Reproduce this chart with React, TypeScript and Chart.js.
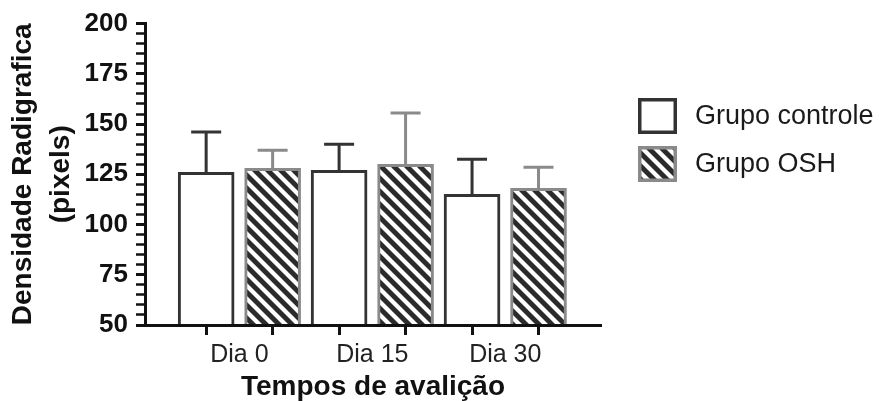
import React, { useEffect, useRef } from 'react';
import { Chart, registerables } from 'chart.js';

Chart.register(...registerables);

// ---- data ----
const categories = ['Dia 0', 'Dia 15', 'Dia 30'];
const seriesLabels = ['Grupo controle', 'Grupo OSH'];
const controlMeans = [126, 127, 115];
const controlSD = [20, 13, 17.5];
const oshMeans = [128, 130, 118];
const oshSD = [9, 25.5, 10.5];
const yMin = 50;
const yMax = 200;
const yMajorStep = 25;
const yMinorStep = 5;
const xTitle = 'Tempos de avalição';
const yTitle = ['Densidade Radigrafica', '(pixels)'];

const FONT = "'Liberation Sans', Arial, Helvetica, sans-serif";

function makeHatch(): CanvasPattern | string {
  const s = 13;
  const c = document.createElement('canvas');
  c.width = s;
  c.height = s;
  const g = c.getContext('2d');
  if (!g) return '#2b2b2b';
  g.fillStyle = '#2b2b2b';
  g.fillRect(0, 0, s, s);
  g.strokeStyle = '#ffffff';
  g.lineWidth = 4.2;
  for (let k = -1; k <= 1; k++) {
    g.beginPath();
    g.moveTo(k * s - 3, -3);
    g.lineTo(k * s + s + 3, s + 3);
    g.stroke();
  }
  const p = g.createPattern(c, 'repeat');
  return p || '#2b2b2b';
}

const errorBarsPlugin = {
  id: 'errorBars',
  afterDatasetsDraw(chart: any) {
    const ctx = chart.ctx;
    const yScale = chart.scales.y;
    chart.data.datasets.forEach((ds: any, di: number) => {
      const meta = chart.getDatasetMeta(di);
      const errs: number[] = ds.errors || [];
      meta.data.forEach((el: any, i: number) => {
        const mean = ds.data[i].y;
        const top = yScale.getPixelForValue(mean + errs[i]);
        const base = el.y;
        ctx.save();
        ctx.strokeStyle = ds.borderColor;
        ctx.lineWidth = 3;
        ctx.beginPath();
        ctx.moveTo(el.x, base);
        ctx.lineTo(el.x, top);
        ctx.moveTo(el.x - 15, top);
        ctx.lineTo(el.x + 15, top);
        ctx.stroke();
        ctx.restore();
      });
    });
  },
};

const boxLegendPlugin = {
  id: 'boxLegend',
  afterDraw(chart: any, _args: any, opts: any) {
    const ctx = chart.ctx;
    chart.data.datasets.forEach((ds: any, i: number) => {
      const bx = opts.x;
      const by = opts.ys[i];
      const bw = opts.boxW;
      const bh = opts.boxH;
      ctx.save();
      ctx.fillStyle = ds.backgroundColor;
      ctx.fillRect(bx, by, bw, bh);
      ctx.strokeStyle = ds.borderColor;
      ctx.lineWidth = 3.5;
      ctx.strokeRect(bx + 1.75, by + 1.75, bw - 3.5, bh - 3.5);
      ctx.fillStyle = '#1a1a1a';
      ctx.font = `27px ${FONT}`;
      ctx.textBaseline = 'middle';
      ctx.textAlign = 'left';
      ctx.fillText(ds.label, opts.textX, by + bh / 2 + 1);
      ctx.restore();
    });
  },
};

export default function App() {
  const ref = useRef<HTMLCanvasElement>(null);

  useEffect(() => {
    const canvas = ref.current;
    if (!canvas) return;
    const hatch = makeHatch();

    const xTicks: number[] = [];
    categories.forEach((_, i) => {
      xTicks.push(i + 0.75, i + 1, i + 1.25);
    });

    const chart = new Chart(canvas, {
      type: 'bar',
      data: {
        datasets: [
          {
            label: seriesLabels[0],
            data: controlMeans.map((v, i) => ({ x: i + 0.75, y: v })),
            errors: controlSD,
            backgroundColor: '#ffffff',
            borderColor: '#333333',
            borderWidth: 3,
            borderSkipped: 'start',
            grouped: false,
            barThickness: 56,
          } as any,
          {
            label: seriesLabels[1],
            data: oshMeans.map((v, i) => ({ x: i + 1.25, y: v })),
            errors: oshSD,
            backgroundColor: hatch,
            borderColor: '#8a8a8a',
            borderWidth: 3,
            borderSkipped: 'start',
            grouped: false,
            barThickness: 56,
          } as any,
        ],
      },
      options: {
        responsive: false,
        animation: false,
        devicePixelRatio: 1,
        layout: { padding: { top: 23, right: 279, left: 0, bottom: 0 } },
        plugins: {
          legend: { display: false },
          tooltip: { enabled: false },
          boxLegend: { x: 638, ys: [98, 146], boxW: 39, boxH: 36, textX: 695 },
        } as any,
        scales: {
          x: {
            type: 'linear',
            offset: false,
            min: 0.29,
            max: 3.72,
            afterBuildTicks: (scale: any) => {
              scale.ticks = xTicks.map((v) => ({ value: v }));
            },
            afterFit: (scale: any) => {
              scale.height = 76;
            },
            border: { display: true, color: '#111', width: 3, z: 1 },
            grid: {
              offset: false,
              drawOnChartArea: false,
              drawTicks: true,
              tickLength: 10,
              tickWidth: 3,
              tickColor: (ctx: any) =>
                ctx.tick && Number.isInteger(ctx.tick.value) ? 'rgba(0,0,0,0)' : '#111',
            },
            ticks: {
              autoSkip: false,
              maxRotation: 0,
              padding: 5,
              color: '#222',
              font: { family: FONT, size: 25 },
              callback: (v: any) => {
                const n = Number(v);
                return Number.isInteger(n) ? categories[n - 1] : '';
              },
            },
            title: {
              display: true,
              text: xTitle,
              color: '#111',
              font: { family: FONT, size: 28, weight: 'bold', lineHeight: 1 },
              padding: { top: 0, bottom: 0 },
            },
          },
          y: {
            type: 'linear',
            min: yMin,
            max: yMax,
            afterFit: (scale: any) => {
              scale.width = 145;
            },
            border: { display: true, color: '#111', width: 3, z: 1 },
            grid: {
              drawOnChartArea: false,
              drawTicks: true,
              tickLength: 9,
              tickWidth: (ctx: any) => (ctx.tick && ctx.tick.value % yMajorStep === 0 ? 3 : 2.5),
              tickColor: '#111',
            },
            ticks: {
              stepSize: yMinorStep,
              autoSkip: false,
              padding: 8,
              color: '#111',
              font: { family: FONT, size: 26, weight: 'bold' },
              callback: (v: any) => (Number(v) % yMajorStep === 0 ? String(v) : ''),
            },
            title: {
              display: true,
              text: yTitle,
              color: '#111',
              font: { family: FONT, size: 28, weight: 'bold', lineHeight: 1.36 },
              padding: { top: 4, bottom: 0 },
            },
          },
        },
      },
      plugins: [errorBarsPlugin, boxLegendPlugin],
    } as any);

    return () => chart.destroy();
  }, []);

  return (
    <div style={{ position: 'fixed', left: 0, top: 0, width: 880, height: 401, background: '#fff' }}>
      <canvas ref={ref} width={880} height={401} style={{ display: 'block' }} />
    </div>
  );
}
